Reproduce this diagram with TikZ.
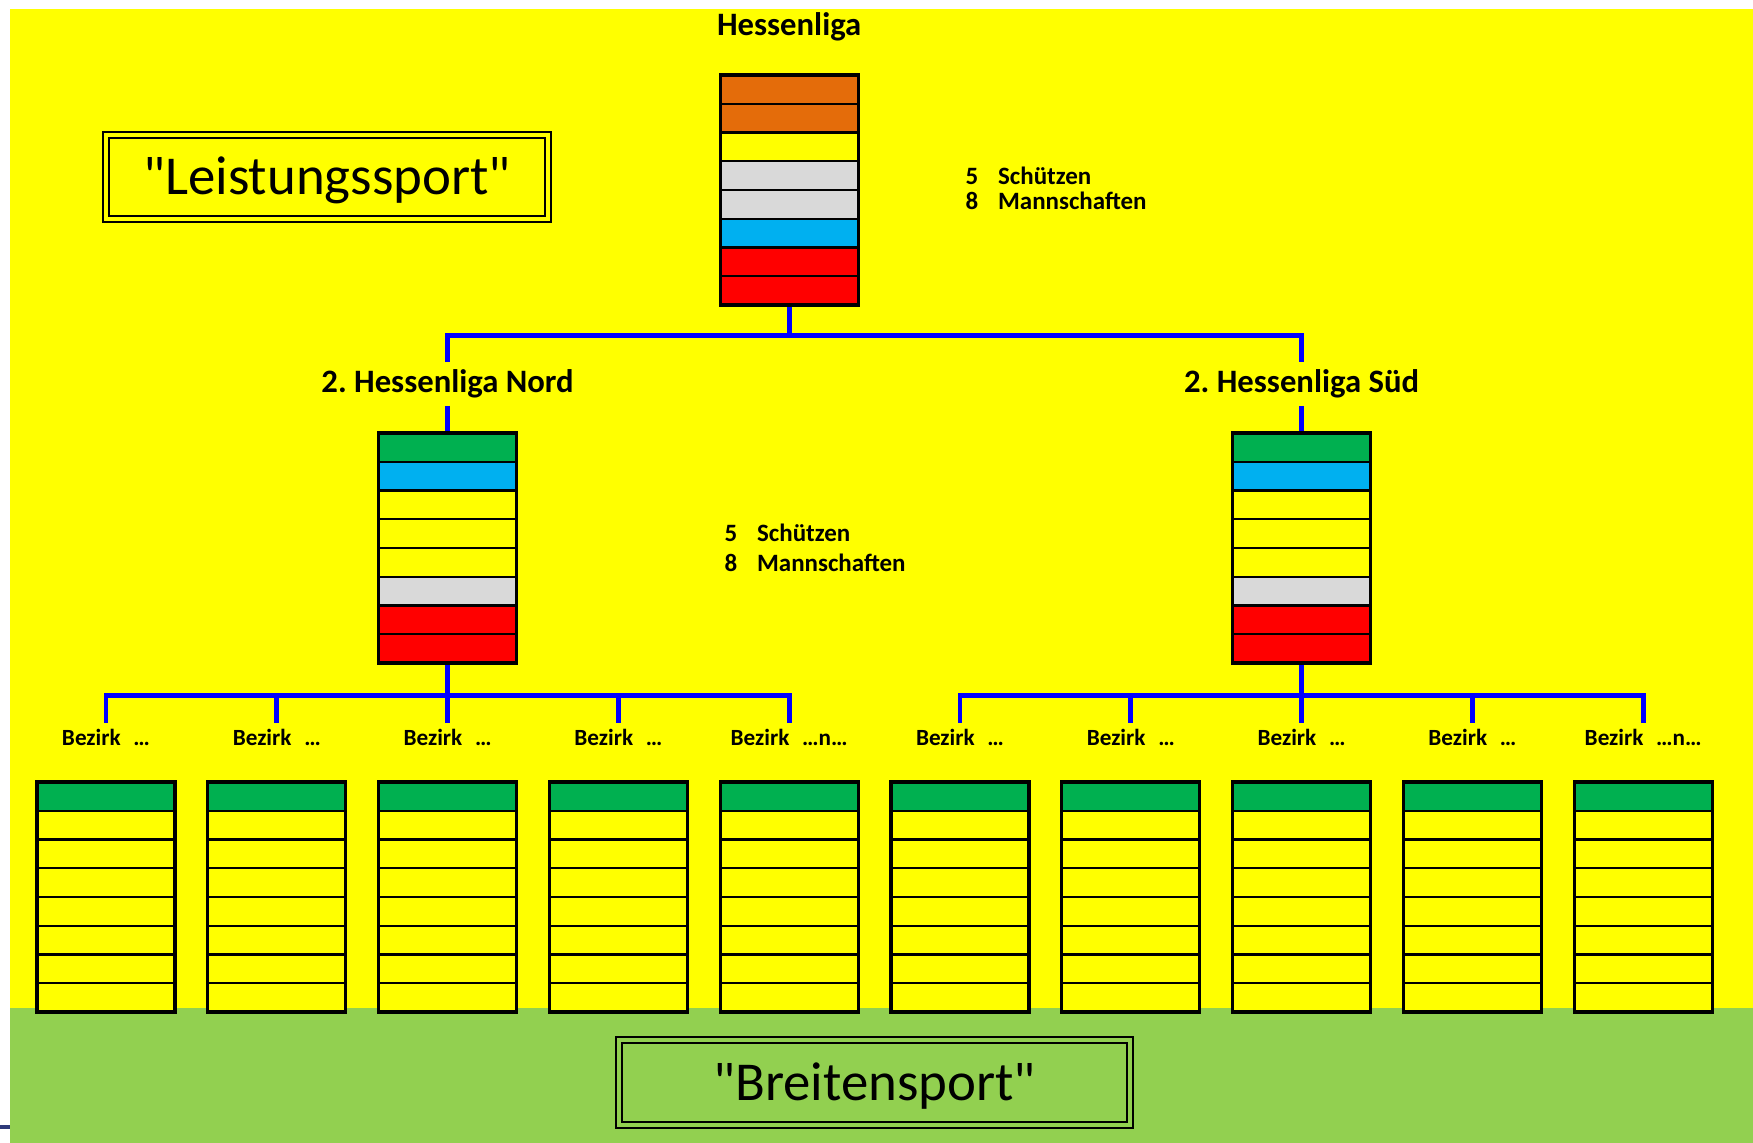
\documentclass[tikz,border=0pt]{standalone}
\usepackage{fontspec}
\setmainfont{Carlito}
\newfontfamily\quotefont{Carlito}
\frenchspacing
\definecolor{ligayellow}{HTML}{FFFF00}
\definecolor{ligagreen}{HTML}{92D050}
\definecolor{ligaorange}{HTML}{E46C0A}
\definecolor{ligagrey}{HTML}{D9D9D9}
\definecolor{ligablue}{HTML}{00B0F0}
\definecolor{ligared}{HTML}{FF0000}
\definecolor{ligadkgreen}{HTML}{00B050}
\definecolor{linkblue}{HTML}{0000FF}
\definecolor{ticknavy}{HTML}{2E3A7A}

% stack of rows: name, centre x, top y, colours
\newcommand{\ligabox}[4]{%
  \foreach \c [count=\i] in {#4}
    \draw[cell,fill=\c] ({#2-69},{#3+(\i-1)*28.75}) rectangle ++(138,28.75);
  \node[stackbox] (#1) at ({#2},{#3+115}) {};
}

\begin{document}
\begin{tikzpicture}[x=0.1mm,y=-0.1mm,
  cell/.style={draw,line width=0.6pt},
  stackbox/.style={draw,line width=0.9pt,minimum width=13.8mm,minimum height=23mm,inner sep=0pt},
  link/.style={draw=linkblue,line width=1.4pt},
  title/.style={font=\bfseries\fontsize{9.3}{10}\selectfont,text height=7pt,text depth=2pt,inner sep=1.5pt},
  bezirk/.style={font=\bfseries\fontsize{6.6}{7}\selectfont,text height=5pt,text depth=1.5pt,inner sep=1pt},
  info/.style={font=\bfseries\fontsize{7.1}{8}\selectfont,inner sep=0pt,anchor=base west},
  sportbox/.style={draw,line width=0.5pt,double distance=1.1pt,text height=10pt,text depth=0pt,font=\quotefont\fontsize{15.6}{18}\selectfont}]
\useasboundingbox (0,0) rectangle (1753,1143);
%background
\fill[ligayellow] (10,9) rectangle (1753,1008);
\fill[ligagreen] (10,1008) rectangle (1753,1143);
\fill[ticknavy] (0,1125) rectangle (10,1129);
%labels
\node[sportbox,double=ligayellow,minimum width=44.2mm,minimum height=8.4mm] (leistung) at (327,177) {"Leistungssport"};
\node[sportbox,double=ligagreen,minimum width=51.1mm,minimum height=8.5mm] (breite) at (874.5,1082.5) {"Breitensport"};
%hessenliga
\ligabox{hl}{789.2}{75}{ligaorange,ligaorange,ligayellow,ligagrey,ligagrey,ligablue,ligared,ligared}
\node[title] (hl-title) at (789.2,27) {Hessenliga};
\node[info] (hl-shooters) at (965,185) {\makebox[1.3em][l]{5}Schützen};
\node[info] (hl-teams) at (965,210) {\makebox[1.3em][l]{8}Mannschaften};
%2. hessenliga
\ligabox{nord}{447.6}{433}{ligadkgreen,ligablue,ligayellow,ligayellow,ligayellow,ligagrey,ligared,ligared}
\ligabox{sued}{1301.6}{433}{ligadkgreen,ligablue,ligayellow,ligayellow,ligayellow,ligagrey,ligared,ligared}
\node[title] (nord-title) at (447.6,384) {2. Hessenliga Nord};
\node[title] (sued-title) at (1301.6,384) {2. Hessenliga Süd};
\node[info] (nord-shooters) at (724,542) {\makebox[1.3em][l]{5}Schützen};
\node[info] (nord-teams) at (724,572) {\makebox[1.3em][l]{8}Mannschaften};
%%links
\draw[link] (hl.south) -- ++(0,29) coordinate (hl-bar);
\draw[link] (nord-title.north) |- (hl-bar) -| (sued-title.north);
\draw[link] (nord-title.south) -- (nord.north);
\draw[link] (sued-title.south) -- (sued.north);
%bezirke
\foreach \k/\t in {0/…,1/…,2/…,3/…,4/…n…,5/…,6/…,7/…,8/…,9/…n…}{
  \ligabox{bz\k}{106+170.8*\k}{782}{ligadkgreen,ligayellow,ligayellow,ligayellow,ligayellow,ligayellow,ligayellow,ligayellow}
  \node[bezirk] (lab\k) at ({106+170.8*\k},739) {Bezirk\hspace{0.55em}\t};
}
%%links
\draw[link] (nord.south) -- ++(0,31) coordinate (nord-bar);
\draw[link] (sued.south) -- ++(0,31) coordinate (sued-bar);
\foreach \k in {0,...,4}
  \draw[link] (nord-bar) -| (lab\k.north);
\foreach \k in {5,...,9}
  \draw[link] (sued-bar) -| (lab\k.north);
\end{tikzpicture}
\end{document}
